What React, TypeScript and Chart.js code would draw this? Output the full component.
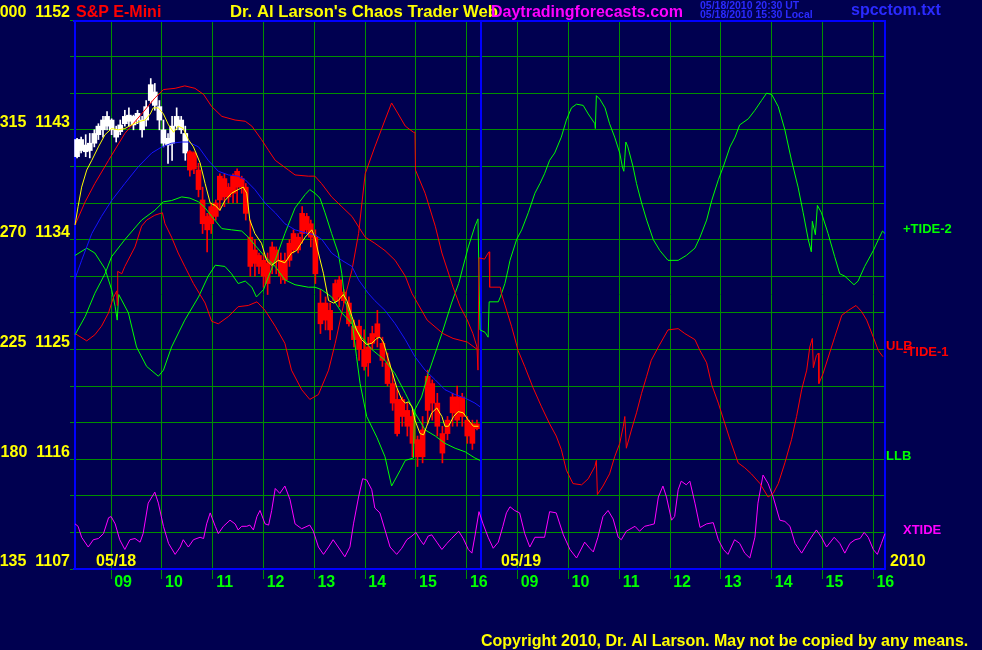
import React, { useEffect, useRef } from "react";
import { Chart, registerables } from "chart.js";

Chart.register(...registerables);

// ---------- axes ----------
const PRICE_MIN = 1107;
const PRICE_MAX = 1152;
const PRICE_STEP = 3;
const priceLabels = [1107, 1116, 1125, 1134, 1143, 1152];
const angleLabels = ["135", "180", "225", "270", "315", "000"];
const HOURS_MIN = 0;
const HOURS_MAX = 16;
const hourTicks = [0.75, 1.75, 2.75, 3.75, 4.75, 5.75, 6.75, 7.75, 8.75, 9.75, 10.75, 11.75, 12.75, 13.75, 14.75, 15.75];
const hourLabels = ["09", "10", "11", "12", "13", "14", "15", "16", "09", "10", "11", "12", "13", "14", "15", "16"];
const dayBreaks = [0, 8, 16];
const dayLabels = ["05/18", "05/19"];

// ---------- price bars: [time(h), open, high, low, close] ----------
const WHITE_BAR_COUNT = 26;
const candles: number[][] = [
  [0.08, 1140.8, 1142.3, 1140.7, 1142.2],
  [0.16, 1142.2, 1142.4, 1141.1, 1141.3],
  [0.25, 1141.75, 1142.6, 1140.8, 1141.2],
  [0.33, 1141.3, 1142.7, 1140.7, 1141.9],
  [0.42, 1141.9, 1143.0, 1141.6, 1142.7],
  [0.50, 1142.6, 1143.5, 1142.2, 1143.3],
  [0.59, 1143.0, 1144.1, 1142.4, 1143.8],
  [0.67, 1143.3, 1144.5, 1143.0, 1144.1],
  [0.76, 1143.8, 1143.9, 1142.6, 1143.0],
  [0.85, 1143.0, 1143.3, 1142.0, 1142.4],
  [0.93, 1142.85, 1143.8, 1142.6, 1143.4],
  [1.02, 1143.5, 1144.6, 1143.3, 1144.1],
  [1.10, 1144.2, 1144.8, 1143.3, 1143.7],
  [1.19, 1143.4, 1144.2, 1143.0, 1144.1],
  [1.27, 1143.8, 1144.6, 1143.5, 1144.35],
  [1.36, 1143.8, 1144.1, 1142.4, 1143.0],
  [1.44, 1143.8, 1145.4, 1143.3, 1144.9],
  [1.53, 1145.4, 1147.2, 1145.2, 1146.7],
  [1.61, 1146.1, 1146.8, 1144.6, 1145.0],
  [1.70, 1144.9, 1145.4, 1143.0, 1143.8],
  [1.78, 1143.0, 1143.8, 1141.6, 1141.9],
  [1.87, 1142.3, 1142.7, 1140.25, 1141.75],
  [1.95, 1141.9, 1144.1, 1140.5, 1143.3],
  [2.04, 1143.3, 1144.8, 1143.0, 1144.1],
  [2.13, 1143.8, 1144.1, 1142.7, 1143.0],
  [2.21, 1142.7, 1143.3, 1140.5, 1141.1],
  [2.30, 1141.2, 1141.3, 1139.2, 1139.7],
  [2.38, 1139.8, 1141.2, 1139.4, 1141.1],
  [2.47, 1139.7, 1140.25, 1137.5, 1138.1],
  [2.55, 1137.25, 1138.3, 1134.5, 1135.3],
  [2.64, 1135.9, 1136.15, 1133.0, 1134.8],
  [2.72, 1135.3, 1137.0, 1134.5, 1136.7],
  [2.81, 1137.0, 1137.25, 1135.6, 1135.9],
  [2.89, 1137.25, 1139.4, 1136.4, 1139.2],
  [2.98, 1139.0, 1139.4, 1136.7, 1137.5],
  [3.06, 1138.3, 1138.6, 1137.0, 1137.5],
  [3.15, 1137.8, 1139.4, 1137.0, 1139.2],
  [3.23, 1139.6, 1139.8, 1137.0, 1138.3],
  [3.32, 1138.3, 1139.2, 1137.8, 1139.0],
  [3.40, 1138.3, 1138.6, 1135.6, 1136.15],
  [3.49, 1134.2, 1135.6, 1131.0, 1131.8],
  [3.58, 1132.05, 1134.0, 1131.0, 1133.15],
  [3.66, 1132.7, 1132.9, 1131.2, 1131.8],
  [3.75, 1132.3, 1132.9, 1130.1, 1131.0],
  [3.83, 1130.4, 1132.9, 1129.5, 1132.05],
  [3.92, 1133.4, 1133.8, 1131.2, 1132.05],
  [4.00, 1132.3, 1133.4, 1131.2, 1133.15],
  [4.09, 1132.3, 1132.9, 1130.4, 1131.0],
  [4.17, 1130.7, 1132.9, 1130.4, 1132.3],
  [4.26, 1132.3, 1134.0, 1131.8, 1133.7],
  [4.34, 1134.5, 1134.8, 1132.9, 1133.15],
  [4.43, 1133.15, 1134.5, 1132.9, 1134.2],
  [4.51, 1134.5, 1136.7, 1133.7, 1136.15],
  [4.60, 1135.9, 1136.15, 1134.5, 1134.8],
  [4.68, 1135.3, 1135.6, 1133.4, 1134.2],
  [4.77, 1134.2, 1134.8, 1130.4, 1131.2],
  [4.87, 1128.8, 1129.9, 1126.3, 1127.1],
  [4.97, 1127.4, 1129.3, 1126.6, 1128.8],
  [5.06, 1128.2, 1128.8, 1125.8, 1126.6],
  [5.16, 1129.0, 1130.7, 1128.8, 1130.4],
  [5.24, 1130.7, 1131.0, 1128.5, 1129.3],
  [5.33, 1129.0, 1129.9, 1128.8, 1129.7],
  [5.43, 1128.8, 1129.3, 1126.9, 1127.1],
  [5.53, 1126.9, 1127.4, 1125.2, 1125.8],
  [5.63, 1126.9, 1127.4, 1124.1, 1125.0],
  [5.73, 1125.0, 1126.6, 1123.3, 1123.6],
  [5.81, 1123.9, 1126.0, 1122.8, 1125.2],
  [5.89, 1125.5, 1126.9, 1125.0, 1126.3],
  [5.99, 1126.0, 1128.2, 1125.2, 1127.1],
  [6.09, 1125.5, 1126.0, 1123.6, 1124.1],
  [6.19, 1123.9, 1124.7, 1122.0, 1122.2],
  [6.29, 1122.2, 1123.0, 1120.0, 1120.6],
  [6.38, 1120.9, 1121.7, 1117.9, 1118.1],
  [6.48, 1119.5, 1121.1, 1118.7, 1120.9],
  [6.58, 1120.0, 1120.6, 1117.9, 1118.7],
  [6.68, 1119.5, 1120.0, 1116.2, 1117.3],
  [6.78, 1117.6, 1117.9, 1115.4, 1116.2],
  [6.88, 1116.2, 1119.5, 1115.7, 1118.4],
  [6.98, 1120.0, 1123.3, 1118.9, 1122.8],
  [7.07, 1122.2, 1122.5, 1119.2, 1120.6],
  [7.17, 1120.6, 1121.4, 1117.9, 1118.7],
  [7.27, 1118.1, 1118.7, 1115.7, 1116.5],
  [7.37, 1118.1, 1119.5, 1117.6, 1119.2],
  [7.47, 1119.8, 1121.4, 1118.7, 1121.1],
  [7.56, 1121.1, 1122.0, 1118.7, 1119.2],
  [7.66, 1119.5, 1121.4, 1118.7, 1121.1],
  [7.76, 1119.2, 1119.5, 1117.3, 1117.9],
  [7.86, 1117.3, 1119.2, 1116.8, 1118.9],
  [7.95, 1118.9, 1119.2, 1118.4, 1118.5],
];

// ---------- lines: [time(h), price] ----------
const yellowAvg = [
  [0.04, 1135.2], [0.10, 1136.7], [0.17, 1138.3], [0.27, 1139.7], [0.37, 1140.5], [0.50, 1141.6], [0.63, 1142.6],
  [0.76, 1143.1], [0.89, 1143.0], [1.02, 1143.1], [1.15, 1143.4], [1.32, 1143.7], [1.42, 1143.8], [1.52, 1144.3],
  [1.58, 1144.8], [1.68, 1144.8], [1.78, 1144.3], [1.88, 1143.4], [1.98, 1142.8], [2.07, 1143.3], [2.17, 1143.1],
  [2.27, 1142.2], [2.37, 1141.6], [2.50, 1140.3], [2.60, 1138.6], [2.70, 1137.0], [2.80, 1136.8], [2.89, 1136.4],
  [2.99, 1137.2], [3.12, 1137.8], [3.25, 1138.1], [3.35, 1138.3], [3.42, 1137.8], [3.48, 1135.6], [3.58, 1134.5],
  [3.71, 1133.7], [3.81, 1132.3], [3.91, 1131.9], [4.04, 1132.3], [4.17, 1132.1], [4.30, 1132.9], [4.40, 1133.1],
  [4.57, 1134.2], [4.70, 1134.8], [4.76, 1134.2], [4.83, 1132.9], [4.93, 1131.2], [5.03, 1129.0], [5.13, 1128.8],
  [5.22, 1129.0], [5.32, 1129.5], [5.39, 1129.0], [5.49, 1127.7], [5.58, 1126.6], [5.68, 1125.8], [5.78, 1125.4],
  [5.88, 1125.5], [5.98, 1125.9], [6.04, 1126.0], [6.11, 1125.6], [6.17, 1124.7], [6.27, 1123.3], [6.37, 1121.9],
  [6.47, 1120.9], [6.54, 1120.6], [6.60, 1120.7], [6.67, 1120.3], [6.73, 1119.2], [6.83, 1118.1], [6.90, 1118.0],
  [6.96, 1118.7], [7.06, 1119.8], [7.16, 1120.2], [7.26, 1119.5], [7.32, 1118.7], [7.39, 1118.7], [7.49, 1119.5],
  [7.58, 1119.9], [7.68, 1119.8], [7.78, 1119.2], [7.88, 1118.7], [7.98, 1118.7],
];

const blueAvg = [
  [0.04, 1130.8], [0.17, 1132.3], [0.37, 1134.5], [0.56, 1135.9], [0.76, 1137.2], [1.02, 1138.6], [1.29, 1140.0],
  [1.55, 1141.1], [1.75, 1141.6], [1.94, 1141.9], [2.14, 1142.0], [2.27, 1142.0], [2.47, 1141.6], [2.66, 1140.5],
  [2.86, 1139.6], [3.06, 1139.3], [3.25, 1139.2], [3.39, 1138.9], [3.58, 1138.1], [3.78, 1137.0], [3.98, 1136.2],
  [4.17, 1135.3], [4.37, 1134.8], [4.63, 1134.5], [4.76, 1134.4], [4.90, 1134.0], [5.09, 1132.9], [5.29, 1132.3],
  [5.49, 1131.8], [5.62, 1130.7], [5.81, 1129.6], [5.94, 1129.0], [6.14, 1128.2], [6.34, 1127.1], [6.54, 1125.8],
  [6.73, 1124.4], [6.93, 1123.3], [7.13, 1122.5], [7.32, 1121.7], [7.52, 1121.3], [7.72, 1121.0], [7.91, 1120.6],
  [8.01, 1120.3],
];

const ulbBand = [
  [0.04, 1135.2], [0.24, 1137.1], [0.43, 1138.6], [0.70, 1140.5], [1.02, 1142.7], [1.35, 1144.3], [1.61, 1145.6],
  [1.78, 1146.3], [2.01, 1146.4], [2.20, 1146.6], [2.40, 1146.4], [2.57, 1145.9], [2.73, 1144.9], [2.93, 1144.1],
  [3.19, 1143.8], [3.39, 1143.7], [3.52, 1143.3], [3.71, 1142.2], [3.85, 1141.3], [3.98, 1140.5], [4.24, 1139.7],
  [4.37, 1139.3], [4.63, 1139.2], [4.76, 1139.2], [4.89, 1138.6], [5.09, 1137.5], [5.29, 1136.7], [5.49, 1135.9],
  [5.75, 1134.2], [5.94, 1133.7], [6.14, 1133.1], [6.34, 1132.3], [6.54, 1131.0], [6.67, 1129.6], [6.97, 1127.4],
  [7.28, 1126.3], [7.48, 1125.9], [7.76, 1125.6], [7.97, 1124.95],
];

const llbBand = [
  [0.04, 1126.2], [0.24, 1127.7], [0.43, 1129.6], [0.63, 1131.2], [0.76, 1132.6], [1.02, 1134.0], [1.35, 1135.6],
  [1.61, 1136.4], [1.78, 1137.1], [1.94, 1137.2], [2.14, 1137.5], [2.30, 1137.4], [2.47, 1137.1], [2.60, 1136.6],
  [2.73, 1135.9], [2.93, 1134.9], [3.12, 1134.8], [3.32, 1134.7], [3.45, 1134.2], [3.61, 1133.4], [3.78, 1132.6],
  [3.98, 1131.8], [4.17, 1130.7], [4.37, 1130.3], [4.63, 1130.1], [4.76, 1130.1], [4.89, 1129.9], [5.09, 1129.3],
  [5.29, 1128.0], [5.49, 1127.1], [5.68, 1126.0], [5.88, 1125.0], [6.14, 1124.1], [6.34, 1123.0], [6.54, 1121.4],
  [6.73, 1119.8], [6.93, 1118.4], [7.13, 1117.9], [7.32, 1117.3], [7.52, 1116.9], [7.72, 1116.6], [7.91, 1116.1],
  [8.01, 1115.9],
];

const tideMinus1 = [
  [0.04, 1126.3], [0.27, 1125.7], [0.43, 1126.2], [0.56, 1126.9], [0.70, 1128.0], [0.79, 1129.2], [0.86, 1129.8],
  [0.87, 1128.6], [0.88, 1131.4], [0.96, 1131.2], [1.02, 1131.8], [1.22, 1133.4], [1.35, 1135.1], [1.45, 1135.6],
  [1.61, 1136.0], [1.76, 1136.2], [1.81, 1135.3], [1.94, 1134.2], [2.07, 1132.9], [2.20, 1131.8], [2.37, 1130.4],
  [2.60, 1128.8], [2.73, 1127.3], [2.86, 1127.1], [3.06, 1127.7], [3.25, 1128.5], [3.45, 1128.6], [3.62, 1128.9],
  [3.78, 1128.2], [3.98, 1126.9], [4.17, 1125.5], [4.30, 1123.3], [4.50, 1121.7], [4.66, 1120.9], [4.83, 1121.3],
  [5.03, 1123.3], [5.16, 1125.5], [5.29, 1128.0], [5.39, 1129.9], [5.49, 1131.5], [5.62, 1134.5], [5.75, 1139.4],
  [5.94, 1141.6], [6.14, 1143.8], [6.27, 1145.2], [6.40, 1144.3], [6.54, 1143.3], [6.70, 1142.8], [6.73, 1142.8],
  [6.74, 1139.7], [6.93, 1137.8], [7.13, 1135.1], [7.26, 1132.9], [7.48, 1130.1], [7.62, 1128.5], [7.76, 1127.4],
  [7.87, 1126.3], [7.95, 1125.2], [7.97, 1123.3], [7.99, 1132.5], [8.10, 1132.4], [8.17, 1132.9], [8.19, 1133.0],
  [8.20, 1130.1], [8.41, 1130.1], [8.43, 1129.6], [8.63, 1126.9], [8.76, 1124.9], [8.89, 1123.6], [9.05, 1121.9],
  [9.22, 1120.3], [9.38, 1118.9], [9.51, 1117.9], [9.61, 1116.8], [9.71, 1115.1], [9.84, 1114.0], [10.01, 1113.9],
  [10.14, 1114.4], [10.27, 1115.4], [10.30, 1115.9], [10.32, 1113.1], [10.43, 1113.8], [10.56, 1114.8], [10.66, 1116.2],
  [10.76, 1117.3], [10.83, 1118.7], [10.86, 1119.5], [10.89, 1116.9], [10.99, 1118.4], [11.09, 1119.8], [11.19, 1121.4],
  [11.29, 1122.8], [11.38, 1124.1], [11.52, 1125.2], [11.71, 1126.6], [11.91, 1126.7], [12.04, 1126.3], [12.24, 1125.8],
  [12.34, 1124.9], [12.47, 1123.9], [12.57, 1122.1], [12.70, 1120.6], [12.83, 1118.9], [12.93, 1117.6], [13.09, 1115.7],
  [13.22, 1115.3], [13.35, 1114.8], [13.52, 1114.0], [13.68, 1112.9], [13.78, 1113.2], [13.88, 1114.0], [14.01, 1115.7],
  [14.14, 1117.6], [14.24, 1119.5], [14.34, 1121.7], [14.44, 1123.3], [14.50, 1125.2], [14.55, 1125.9], [14.57, 1123.5],
  [14.63, 1124.5], [14.67, 1124.7], [14.68, 1122.2], [14.76, 1123.0], [14.89, 1124.7], [14.99, 1126.0], [15.13, 1127.8],
  [15.26, 1128.2], [15.41, 1128.6], [15.52, 1128.1], [15.62, 1127.4], [15.75, 1126.0], [15.85, 1124.9], [15.94, 1124.4],
];

const tidePlus2 = [
  [0.04, 1132.7], [0.27, 1133.3], [0.43, 1132.9], [0.63, 1131.6], [0.76, 1129.9], [0.83, 1128.5], [0.87, 1127.4],
  [0.90, 1129.5], [1.09, 1128.0], [1.25, 1125.2], [1.45, 1123.6], [1.68, 1122.8], [1.78, 1123.3], [1.94, 1125.2],
  [2.20, 1127.4], [2.47, 1129.3], [2.66, 1131.0], [2.80, 1131.9], [2.99, 1131.8], [3.12, 1131.2], [3.25, 1130.4],
  [3.39, 1130.6], [3.52, 1130.1], [3.61, 1129.3], [3.75, 1129.9], [3.85, 1131.0], [3.98, 1132.3], [4.17, 1134.5],
  [4.37, 1136.6], [4.57, 1137.7], [4.66, 1138.1], [4.76, 1137.8], [4.86, 1137.4], [4.96, 1136.2], [5.09, 1134.5],
  [5.22, 1132.9], [5.29, 1131.2], [5.35, 1129.0], [5.49, 1127.4], [5.58, 1124.4], [5.65, 1122.2], [5.78, 1119.5],
  [5.98, 1117.8], [6.14, 1116.2], [6.27, 1113.8], [6.44, 1115.1], [6.54, 1115.9], [6.70, 1116.1], [6.72, 1120.0],
  [6.86, 1121.1], [6.99, 1123.0], [7.13, 1124.7], [7.26, 1126.3], [7.45, 1128.8], [7.59, 1130.4], [7.78, 1133.4],
  [7.91, 1135.1], [7.97, 1135.7], [8.01, 1126.6], [8.11, 1126.4], [8.17, 1126.0], [8.19, 1128.9], [8.37, 1128.9],
  [8.41, 1129.3], [8.50, 1130.4], [8.56, 1131.5], [8.60, 1132.3], [8.73, 1134.0], [8.83, 1134.8], [8.96, 1136.2],
  [9.09, 1137.8], [9.19, 1138.6], [9.28, 1139.4], [9.38, 1140.5], [9.48, 1141.1], [9.61, 1142.4], [9.71, 1143.8],
  [9.81, 1144.8], [9.91, 1145.1], [10.04, 1145.0], [10.14, 1144.3], [10.27, 1143.5], [10.28, 1143.1], [10.30, 1145.8],
  [10.37, 1145.5], [10.47, 1144.8], [10.56, 1143.5], [10.66, 1142.4], [10.76, 1141.1], [10.81, 1140.0], [10.84, 1139.6],
  [10.86, 1140.7], [10.88, 1142.0], [10.92, 1141.6], [11.02, 1140.0], [11.09, 1138.6], [11.19, 1137.0], [11.29, 1135.6],
  [11.42, 1134.0], [11.55, 1133.1], [11.71, 1132.3], [11.91, 1132.3], [12.07, 1132.7], [12.24, 1133.3], [12.34, 1134.2],
  [12.47, 1135.6], [12.57, 1137.2], [12.70, 1138.9], [12.80, 1140.0], [12.93, 1141.6], [13.03, 1142.4], [13.12, 1143.4],
  [13.29, 1143.9], [13.42, 1144.6], [13.55, 1145.4], [13.65, 1146.0], [13.75, 1145.9], [13.88, 1144.9], [14.01, 1143.0],
  [14.14, 1140.5], [14.27, 1138.3], [14.37, 1136.2], [14.47, 1134.0], [14.53, 1133.0], [14.55, 1135.5], [14.61, 1134.4],
  [14.65, 1136.8], [14.73, 1136.2], [14.86, 1134.5], [14.99, 1132.6], [15.09, 1131.2], [15.19, 1131.0], [15.37, 1130.3],
  [15.45, 1130.6], [15.58, 1131.8], [15.75, 1133.1], [15.85, 1134.0], [15.93, 1134.7], [15.98, 1134.5],
];

const xTide = [
  [0.04, 1110.7], [0.10, 1110.5], [0.17, 1109.6], [0.30, 1108.8], [0.40, 1109.4], [0.50, 1109.5], [0.60, 1109.9],
  [0.70, 1111.2], [0.75, 1111.3], [0.83, 1110.7], [0.92, 1109.4], [1.02, 1108.6], [1.12, 1109.4], [1.22, 1109.5],
  [1.32, 1109.2], [1.38, 1109.9], [1.48, 1112.4], [1.61, 1113.3], [1.68, 1112.4], [1.78, 1110.5], [1.88, 1109.1],
  [2.01, 1108.2], [2.11, 1108.8], [2.17, 1109.4], [2.27, 1108.8], [2.37, 1109.4], [2.50, 1109.6], [2.57, 1109.5],
  [2.63, 1110.7], [2.70, 1111.6], [2.80, 1110.5], [2.86, 1109.9], [2.96, 1110.5], [3.09, 1111.0], [3.19, 1110.7],
  [3.25, 1110.2], [3.32, 1110.5], [3.42, 1110.5], [3.48, 1110.6], [3.55, 1110.2], [3.62, 1111.3], [3.68, 1111.8],
  [3.78, 1110.7], [3.85, 1110.6], [3.91, 1111.8], [3.98, 1113.6], [4.07, 1113.2], [4.17, 1113.8], [4.27, 1112.7],
  [4.37, 1110.7], [4.50, 1110.3], [4.66, 1110.6], [4.73, 1110.1], [4.83, 1108.8], [4.93, 1108.2], [5.03, 1108.8],
  [5.12, 1109.4], [5.22, 1108.8], [5.35, 1108.0], [5.45, 1108.8], [5.52, 1110.7], [5.62, 1112.9], [5.70, 1114.4],
  [5.78, 1114.3], [5.88, 1113.5], [5.94, 1112.0], [6.04, 1111.6], [6.14, 1110.2], [6.24, 1108.8], [6.37, 1108.2],
  [6.47, 1108.7], [6.57, 1109.4], [6.67, 1109.7], [6.75, 1110.0], [6.83, 1109.4], [6.90, 1109.0], [6.99, 1109.7],
  [7.06, 1109.8], [7.16, 1109.2], [7.26, 1108.6], [7.36, 1109.1], [7.45, 1109.5], [7.59, 1110.1], [7.68, 1109.5],
  [7.78, 1108.6], [7.85, 1108.3], [7.91, 1109.7], [7.99, 1111.7], [8.07, 1110.7], [8.17, 1109.6], [8.27, 1108.7],
  [8.37, 1109.2], [8.46, 1110.5], [8.53, 1111.6], [8.60, 1112.1], [8.69, 1111.8], [8.79, 1111.6], [8.89, 1109.9],
  [8.99, 1108.8], [9.09, 1109.6], [9.19, 1109.6], [9.28, 1109.6], [9.38, 1111.7], [9.51, 1111.6], [9.65, 1109.8],
  [9.78, 1108.6], [9.91, 1107.9], [10.07, 1109.2], [10.17, 1108.7], [10.24, 1108.4], [10.33, 1109.6], [10.43, 1111.3],
  [10.53, 1111.8], [10.63, 1111.1], [10.73, 1109.6], [10.79, 1109.4], [10.89, 1110.1], [11.06, 1110.5], [11.15, 1110.1],
  [11.25, 1110.5], [11.35, 1110.6], [11.44, 1110.7], [11.52, 1112.9], [11.61, 1113.8], [11.68, 1112.9], [11.78, 1111.0],
  [11.84, 1111.3], [11.91, 1113.5], [11.97, 1114.2], [12.07, 1113.9], [12.14, 1114.2], [12.24, 1112.4], [12.34, 1110.4],
  [12.47, 1110.7], [12.60, 1110.8], [12.70, 1109.4], [12.80, 1108.6], [12.89, 1108.2], [13.02, 1109.4], [13.12, 1109.1],
  [13.22, 1108.3], [13.32, 1107.9], [13.42, 1109.6], [13.48, 1112.4], [13.58, 1114.7], [13.68, 1114.0], [13.78, 1112.9],
  [13.91, 1111.0], [14.01, 1110.9], [14.11, 1110.5], [14.21, 1109.1], [14.34, 1108.3], [14.44, 1109.0], [14.53, 1109.6],
  [14.63, 1110.2], [14.73, 1109.6], [14.83, 1108.8], [14.98, 1109.6], [15.09, 1109.1], [15.19, 1108.3], [15.29, 1109.1],
  [15.39, 1109.4], [15.49, 1109.5], [15.57, 1110.0], [15.65, 1109.6], [15.75, 1108.6], [15.83, 1108.2], [15.91, 1109.1],
  [15.98, 1109.9],
];

// ---------- colours ----------
const BG = "#000050";
const GRID = "#009000";
const BORDER = "#0000ff";
const YELLOW = "#ffff00";
const RED = "#ff0000";
const GREEN = "#00ff00";
const MAGENTA = "#ff00ff";
const WHITE = "#ffffff";
const BLUE_LINE = "#1414ff";
const INFO_BLUE = "#2a2aff";
const FONT = '"Liberation Sans", Arial, Helvetica, sans-serif';

const toPts = (arr: number[][]) => arr.map((p) => ({ x: p[0], y: p[1] }));

const lineSet = (label: string, arr: number[][], color: string, order: number) => ({
  type: "line",
  label,
  data: toPts(arr),
  borderColor: color,
  backgroundColor: color,
  borderWidth: 1,
  pointRadius: 0,
  tension: 0,
  fill: false,
  order,
});

const decorPlugin = {
  id: "decor",
  beforeDraw(chart: any) {
    const ctx = chart.ctx;
    ctx.save();
    ctx.fillStyle = BG;
    ctx.fillRect(0, 0, chart.width, chart.height);
    ctx.restore();
  },
  beforeDatasetsDraw(chart: any) {
    const ctx = chart.ctx;
    const a = chart.chartArea;
    const xs = chart.scales.x;
    ctx.save();
    ctx.fillStyle = BORDER;
    ctx.fillRect(a.left, a.top, a.right - a.left, 2);
    ctx.fillRect(a.left, a.bottom - 1, a.right - a.left, 2);
    dayBreaks.forEach((d, i) => {
      const px = Math.round(xs.getPixelForValue(d));
      const x = i === 0 ? px + 1 : i === dayBreaks.length - 1 ? px - 2 : px;
      ctx.fillRect(x, a.top, 2, a.bottom - a.top);
    });
    ctx.restore();
  },
  afterDraw(chart: any) {
    const ctx = chart.ctx;
    const a = chart.chartArea;
    const xs = chart.scales.x;
    ctx.save();
    ctx.textBaseline = "alphabetic";
    ctx.textAlign = "left";
    const txt = (s: string, x: number, y: number, color: string, size: number) => {
      ctx.font = `bold ${size}px ${FONT}`;
      ctx.fillStyle = color;
      ctx.fillText(s, x, y);
    };
    // header
    txt("S&P E-Mini", 76, 17, RED, 16);
    txt("Dr. Al Larson's Chaos Trader Web", 230, 17, YELLOW, 16.7);
    txt("Daytradingforecasts.com", 491, 17, MAGENTA, 16);
    txt("05/18/2010 20:30 UT", 700, 9, INFO_BLUE, 10.5);
    txt("05/18/2010 15:30 Local", 700, 18, INFO_BLUE, 10.5);
    txt("spcctom.txt", 851, 15, INFO_BLUE, 16);
    // day labels inside plot
    txt(dayLabels[0], Math.round(xs.getPixelForValue(dayBreaks[0])) + 23, a.bottom - 3, YELLOW, 16);
    txt(dayLabels[1], Math.round(xs.getPixelForValue(dayBreaks[1])) + 21, a.bottom - 3, YELLOW, 16);
    txt("2010", a.right + 4, a.bottom - 3, YELLOW, 16);
    // right-hand labels
    txt("+TIDE-2", 903, 233, GREEN, 13);
    txt("ULB", 886, 350, RED, 13);
    txt("-TIDE-1", 903, 356, RED, 13);
    txt("LLB", 886, 460, GREEN, 13);
    txt("XTIDE", 903, 534, MAGENTA, 13);
    // footer
    txt("Copyright 2010, Dr. Al Larson. May not be copied by any means.", 481, 646, YELLOW, 16);
    ctx.restore();
  },
};

export default function App() {
  const ref = useRef<HTMLCanvasElement | null>(null);

  useEffect(() => {
    document.body.style.background = BG;
    const canvas = ref.current;
    if (!canvas) return;
    Chart.defaults.font.family = FONT;

    const barColors = candles.map((_, i) => (i < WHITE_BAR_COUNT ? WHITE : RED));

    const datasets: any[] = [
      lineSet("avg", yellowAvg, YELLOW, 0),
      lineSet("slow avg", blueAvg, BLUE_LINE, 1),
      lineSet("ULB", ulbBand, RED, 2),
      lineSet("LLB", llbBand, GREEN, 3),
      lineSet("-TIDE-1", tideMinus1, RED, 4),
      lineSet("+TIDE-2", tidePlus2, GREEN, 5),
      lineSet("XTIDE", xTide, MAGENTA, 6),
      {
        type: "bar",
        label: "body",
        data: candles.map((c) => ({ x: c[0], y: [c[1], c[4]] })),
        backgroundColor: barColors,
        borderWidth: 0,
        barThickness: 5,
        grouped: false,
        order: 7,
      },
      {
        type: "bar",
        label: "range",
        data: candles.map((c) => ({ x: c[0], y: [c[3], c[2]] })),
        backgroundColor: barColors,
        borderWidth: 0,
        barThickness: 1,
        grouped: false,
        order: 8,
      },
    ];

    const chart = new Chart(canvas, {
      type: "line",
      data: { datasets },
      options: {
        animation: false,
        responsive: false,
        maintainAspectRatio: false,
        devicePixelRatio: 1,
        events: [],
        layout: { padding: { top: 20, right: 96, left: 0, bottom: 0 } },
        plugins: { legend: { display: false }, tooltip: { enabled: false } },
        scales: {
          x: {
            type: "linear",
            min: HOURS_MIN,
            max: HOURS_MAX,
            offset: false,
            afterBuildTicks: (s: any) => {
              s.ticks = hourTicks.map((v) => ({ value: v }));
            },
            afterFit: (s: any) => {
              s.height = 81;
            },
            ticks: {
              autoSkip: false,
              maxRotation: 0,
              minRotation: 0,
              color: GREEN,
              font: { size: 16, weight: "bold" },
              padding: -6,
              labelOffset: 12,
              callback: (_v: any, i: number) => hourLabels[i],
            },
            grid: {
              offset: false,
              color: GRID,
              lineWidth: 1,
              tickLength: 10,
              tickColor: GRID,
              drawOnChartArea: true,
              drawTicks: true,
            },
            border: { display: false },
          },
          y: {
            type: "linear",
            min: PRICE_MIN,
            max: PRICE_MAX,
            afterFit: (s: any) => {
              s.width = 73;
            },
            ticks: {
              stepSize: PRICE_STEP,
              autoSkip: false,
              color: YELLOW,
              font: { size: 16, weight: "bold" },
              padding: 0,
              labelOffset: -7,
              callback: (v: any) => {
                const i = priceLabels.indexOf(Math.round(Number(v)));
                return i >= 0 ? `${angleLabels[i]}  ${priceLabels[i]}` : "";
              },
            },
            grid: { offset: false, color: GRID, lineWidth: 1, tickLength: 3, tickColor: GRID },
            border: { display: false },
          },
        },
      },
      plugins: [decorPlugin],
    } as any);

    return () => chart.destroy();
  }, []);

  return (
    <div style={{ position: "absolute", left: 0, top: 0, width: 982, height: 650, background: BG }}>
      <canvas ref={ref} width={982} height={650} style={{ display: "block", width: 982, height: 650 }} />
    </div>
  );
}
